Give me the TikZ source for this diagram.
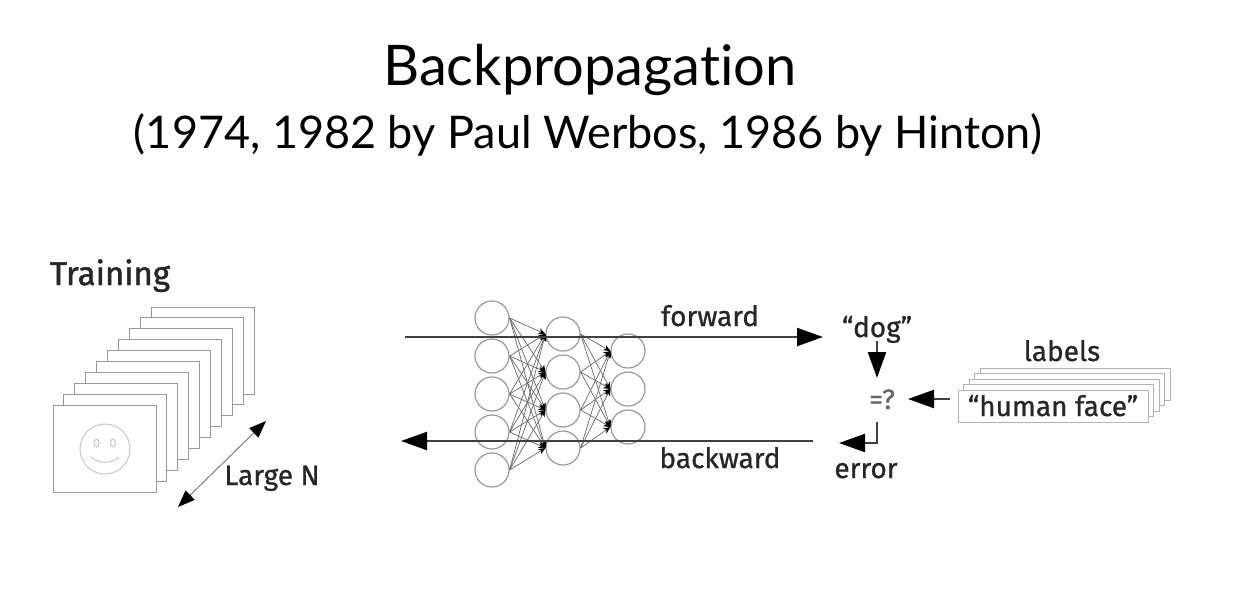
\documentclass[tikz,border=0pt]{standalone}
\usepackage{fontspec}
\setmainfont{Lato}[Ligatures=NoCommon]
\newfontfamily\labelfont{Fira Sans}[FakeBold=0.8]
\newfontfamily\headfont{Fira Sans}[FakeBold=1.4]
\usetikzlibrary{arrows.meta}
\tikzset{
	neuron/.style={circle, draw=black!40, line width=1.2pt, fill=none, minimum size=34pt, inner sep=0pt},
	edge/.style={draw=black!60, line width=0.7pt, -{Stealth[length=7pt,width=6pt,black]}},
	frame/.style={draw=black!40, line width=1pt, fill=white, minimum width=103pt, minimum height=87pt, inner sep=0pt},
	labelframe/.style={draw=black!30, line width=1pt, fill=white, minimum width=190pt, minimum height=32pt, inner sep=0pt},
	bigarrow/.style={draw=black!75, line width=2.2pt, -{Triangle[length=26pt,width=18pt,black]}},
	txt/.style={anchor=base, inner sep=0pt, text=black!85, font=\labelfont\fontsize{28}{32}\selectfont}
}
\begin{document}
\begin{tikzpicture}[x=1pt,y=-1pt]
	\useasboundingbox (0,0) rectangle (1234,603);
	\node[anchor=base, inner sep=0pt, font=\fontsize{56}{66}\selectfont] (title) at (590,85) {Backpropagation};
	\node[anchor=base, inner sep=0pt, font=\fontsize{45}{52}\selectfont] (subtitle) at (588,148) {(1974, 1982 by Paul Werbos, 1986 by Hinton)};

	% stack of pictures
	\node[txt, font=\headfont\fontsize{33}{38}\selectfont] (training) at (110,285) {Training};
	\node[frame] (f10) at (202.5,350.5) {};
	\node[frame] (f9) at (191.6,361.4) {};
	\node[frame] (f8) at (180.7,372.3) {};
	\node[frame] (f7) at (169.8,383.2) {};
	\node[frame] (f6) at (158.9,394.1) {};
	\node[frame] (f5) at (148.1,404.9) {};
	\node[frame] (f4) at (137.2,415.8) {};
	\node[frame] (f3) at (126.3,426.7) {};
	\node[frame] (f2) at (115.4,437.6) {};
	\node[frame] (f1) at (104.5,448.5) {};
	\draw[black!22, line width=1pt] (105,449) circle(25pt);
	\draw[black!22, line width=1pt] (96.5,443) ellipse(2.5pt and 4pt);
	\draw[black!22, line width=1pt] (113,443) ellipse(2.5pt and 4pt);
	\draw[black!22, line width=1pt] (91,457) .. controls (98,464) and (112,464) .. (119,457);
	\coordinate (nback) at (266,421);
	\coordinate (nfront) at (178,507);
	\draw[draw=black!50, line width=1pt, {Triangle[length=17pt,width=13pt,black]}-{Triangle[length=17pt,width=13pt,black]}] (nfront) -- (nback);
	\node[txt] (largen) at (272,485) {Large N};

	% network
	\node[neuron] (a1) at (492,318) {};
	\node[neuron] (a2) at (492,356) {};
	\node[neuron] (a3) at (492,394) {};
	\node[neuron] (a4) at (492,432) {};
	\node[neuron] (a5) at (492,470) {};
	\node[neuron] (b1) at (563,334) {};
	\node[neuron] (b2) at (563,372) {};
	\node[neuron] (b3) at (563,410) {};
	\node[neuron] (b4) at (563,448) {};
	\node[neuron] (c1) at (628,351) {};
	\node[neuron] (c2) at (628,389) {};
	\node[neuron] (c3) at (628,427) {};
	\draw[edge] (a1.east) -- (b1.west);
	\draw[edge] (a1.east) -- (b2.west);
	\draw[edge] (a1.east) -- (b3.west);
	\draw[edge] (a1.east) -- (b4.west);
	\draw[edge] (a2.east) -- (b1.west);
	\draw[edge] (a2.east) -- (b2.west);
	\draw[edge] (a2.east) -- (b3.west);
	\draw[edge] (a2.east) -- (b4.west);
	\draw[edge] (a3.east) -- (b1.west);
	\draw[edge] (a3.east) -- (b2.west);
	\draw[edge] (a3.east) -- (b3.west);
	\draw[edge] (a3.east) -- (b4.west);
	\draw[edge] (a4.east) -- (b1.west);
	\draw[edge] (a4.east) -- (b2.west);
	\draw[edge] (a4.east) -- (b3.west);
	\draw[edge] (a4.east) -- (b4.west);
	\draw[edge] (a5.east) -- (b1.west);
	\draw[edge] (a5.east) -- (b2.west);
	\draw[edge] (a5.east) -- (b3.west);
	\draw[edge] (a5.east) -- (b4.west);
	\draw[edge] (b1.east) -- (c1.west);
	\draw[edge] (b1.east) -- (c2.west);
	\draw[edge] (b1.east) -- (c3.west);
	\draw[edge] (b2.east) -- (c1.west);
	\draw[edge] (b2.east) -- (c2.west);
	\draw[edge] (b2.east) -- (c3.west);
	\draw[edge] (b3.east) -- (c1.west);
	\draw[edge] (b3.east) -- (c2.west);
	\draw[edge] (b3.east) -- (c3.west);
	\draw[edge] (b4.east) -- (c1.west);
	\draw[edge] (b4.east) -- (c2.west);
	\draw[edge] (b4.east) -- (c3.west);

	% forward and backward
	\coordinate (fwdstart) at (405,337);
	\coordinate (fwdend) at (823,337);
	\coordinate (backstart) at (813,441);
	\coordinate (backend) at (401,441);
	\draw[bigarrow] (fwdstart) -- (fwdend);
	\draw[bigarrow] (backstart) -- (backend);
	\node[txt] (forward) at (710,326) {forward};
	\node[txt] (backward) at (720,468) {backward};

	% comparison
	\node[txt] (dog) at (877,337) {“dog”};
	\node[txt, text=black!60] (compare) at (882,409) {=?};
	\node[txt] (error) at (866,478) {error};
	\coordinate (dogend) at (877,378);
	\coordinate (dogstart) at (877,341);
	\coordinate (errstart) at (877,422);
	\coordinate (errbend) at (877,443);
	\coordinate (errend) at (839,443);
	\coordinate (cmpstart) at (950,399);
	\coordinate (cmpend) at (908,399);
	\draw[bigarrow] (dogstart) -- (dogend);
	\draw[bigarrow] (cmpstart) -- (cmpend);
	\draw[bigarrow] (errstart) -- (errbend) -- (errend);

	% labels
	\node[txt] (labels) at (1062,361) {labels};
	\node[labelframe] (l5) at (1075,384) {};
	\node[labelframe] (l4) at (1069.5,389.5) {};
	\node[labelframe] (l3) at (1064,395) {};
	\node[labelframe] (l2) at (1058.5,400.5) {};
	\node[labelframe] (l1) at (1053,406) {};
	\node[txt] (face) at (1053,416) {“human face”};
\end{tikzpicture}
\end{document}
